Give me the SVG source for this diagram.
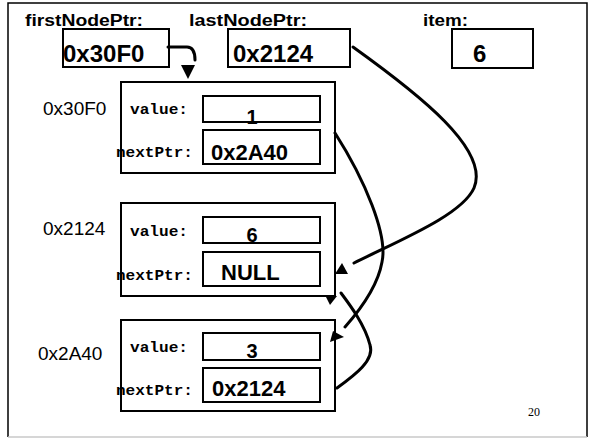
<svg xmlns="http://www.w3.org/2000/svg" width="592" height="439" viewBox="0 0 592 439">
  <style>
    .box { fill: #fff; stroke: #000; stroke-width: 2; }
    .hdr { font-family: "Liberation Sans", Arial, sans-serif; font-weight: bold; font-size: 16px; fill: #000; }
    .big { font-family: "Liberation Sans", Arial, sans-serif; font-weight: bold; font-size: 24px; fill: #000; }
    .ptr { font-family: "Liberation Sans", Arial, sans-serif; font-weight: bold; font-size: 22px; fill: #000; }
    .val { font-family: "Liberation Sans", Arial, sans-serif; font-weight: bold; font-size: 20px; fill: #000; }
    .addr { font-family: "Liberation Sans", Arial, sans-serif; font-size: 19px; fill: #000; }
    .fld { font-family: "Liberation Mono", "Courier New", monospace; font-weight: bold; font-size: 14px; fill: #000; }
    .pg { font-family: "Liberation Serif", "Times New Roman", serif; font-size: 12px; fill: #000; }
    .link { fill: none; stroke: #000; stroke-width: 3; stroke-linecap: round; }
    .tip { fill: #000; stroke: none; }
  </style>

  <!-- slide frame -->
  <rect x="0" y="0" width="592" height="439" fill="#fff"/>
  <path d="M8,437 V3 H587 V437" fill="none" stroke="#000" stroke-width="1.5"/>
  <line x1="8" y1="437" x2="587" y2="437" stroke="#c8c8c8" stroke-width="1.5"/>

  <!-- pointer variables -->
  <g id="firstNodePtr">
    <text class="hdr" x="25" y="26" textLength="118" lengthAdjust="spacingAndGlyphs">firstNodePtr:</text>
    <rect class="box" x="63" y="29" width="106" height="38"/>
    <text class="big" x="63" y="62">0x30F0</text>
  </g>
  <g id="lastNodePtr">
    <text class="hdr" x="189" y="26" textLength="118" lengthAdjust="spacingAndGlyphs">lastNodePtr:</text>
    <rect class="box" x="228" y="29" width="122" height="38"/>
    <text class="big" x="233" y="62">0x2124</text>
  </g>
  <g id="item">
    <text class="hdr" x="423" y="26" textLength="45" lengthAdjust="spacingAndGlyphs">item:</text>
    <rect class="box" x="452" y="29" width="81" height="39"/>
    <text class="big" x="473" y="62">6</text>
  </g>

  <!-- list nodes -->
  <g id="node-0x30F0">
    <text class="addr" x="43" y="115">0x30F0</text>
    <rect class="box" x="121" y="82" width="214" height="91"/>
    <rect class="box" x="203" y="96" width="117" height="26"/>
    <rect class="box" x="203" y="130" width="117" height="34"/>
    <text class="fld" x="130" y="114" textLength="58" lengthAdjust="spacingAndGlyphs">value:</text>
    <text class="fld" x="116" y="157" textLength="77" lengthAdjust="spacingAndGlyphs">nextPtr:</text>
    <text class="val" x="252" y="124" text-anchor="middle">1</text>
    <text class="ptr" x="211" y="160">0x2A40</text>
  </g>
  <g id="node-0x2124">
    <text class="addr" x="43" y="235">0x2124</text>
    <rect class="box" x="121" y="203" width="214" height="93"/>
    <rect class="box" x="203" y="217" width="117" height="26"/>
    <rect class="box" x="203" y="252" width="117" height="34"/>
    <text class="fld" x="130" y="236" textLength="58" lengthAdjust="spacingAndGlyphs">value:</text>
    <text class="fld" x="116" y="280" textLength="77" lengthAdjust="spacingAndGlyphs">nextPtr:</text>
    <text class="val" x="252" y="242" text-anchor="middle">6</text>
    <text class="ptr" x="221" y="280">NULL</text>
  </g>
  <g id="node-0x2A40">
    <text class="addr" x="38" y="360">0x2A40</text>
    <rect class="box" x="121" y="320" width="214" height="91"/>
    <rect class="box" x="203" y="333" width="117" height="27"/>
    <rect class="box" x="203" y="368" width="117" height="34"/>
    <text class="fld" x="130" y="352" textLength="58" lengthAdjust="spacingAndGlyphs">value:</text>
    <text class="fld" x="116" y="395" textLength="77" lengthAdjust="spacingAndGlyphs">nextPtr:</text>
    <text class="val" x="252" y="358" text-anchor="middle">3</text>
    <text class="ptr" x="212" y="396">0x2124</text>
  </g>

  <!-- pointer links -->
  <g id="connectors">
    <path class="link" d="M168,47 L187,47 C193,47 195,52 195,60"/>
    <polygon class="tip" points="181,65 195,65 188,79"/>

    <path class="link" d="M353,47 C420,95 490,150 474,188 C462,215 400,240 354,263"/>
    <polygon class="tip" points="335,274 348,274 342,263"/>

    <path class="link" d="M335,133 C365,180 388,235 382,262 C378,285 360,310 345,327"/>
    <polygon class="tip" points="330,342 333,331 344,337"/>

    <path class="link" d="M337,388 C355,375 375,360 370,345 C365,325 350,305 341,293"/>
    <polygon class="tip" points="325,295 337,296 330,305"/>
  </g>

  <text class="pg" x="528" y="416">20</text>
</svg>
